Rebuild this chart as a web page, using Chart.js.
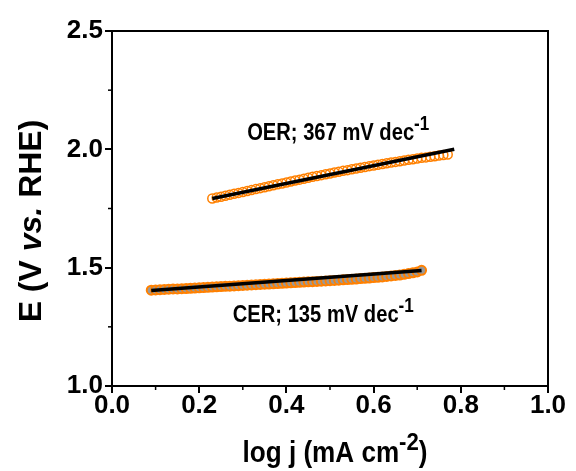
<!DOCTYPE html>
<html>
<head>
<meta charset="utf-8">
<script src="https://cdn.jsdelivr.net/npm/chart.js@4"></script>
<style>
  html, body { margin: 0; padding: 0; background: #fff; }
  #wrap { width: 576px; height: 471px; }
</style>
</head>
<body>
<div id="wrap"><canvas id="chart-tafel" width="576" height="471"></canvas></div>
<script>
// log j values (x) and potentials (y)
const oerLogJ = [0.23, 0.24, 0.25, 0.26, 0.27, 0.28, 0.29, 0.30, 0.31, 0.32, 0.33, 0.34, 0.35, 0.36, 0.37, 0.38, 0.39, 0.40, 0.41, 0.42, 0.43, 0.44, 0.45, 0.46, 0.47, 0.48, 0.49, 0.50, 0.51, 0.52, 0.53, 0.54, 0.55, 0.56, 0.57, 0.58, 0.59, 0.60, 0.61, 0.62, 0.63, 0.64, 0.65, 0.66, 0.67, 0.68, 0.69, 0.70, 0.71, 0.72, 0.73, 0.74, 0.75, 0.76, 0.77];
const oerE = [1.792, 1.796, 1.800, 1.804, 1.808, 1.812, 1.816, 1.820, 1.824, 1.828, 1.832, 1.836, 1.840, 1.844, 1.848, 1.852, 1.856, 1.860, 1.864, 1.868, 1.872, 1.876, 1.880, 1.884, 1.887, 1.891, 1.895, 1.898, 1.902, 1.905, 1.909, 1.912, 1.916, 1.919, 1.922, 1.925, 1.929, 1.932, 1.935, 1.938, 1.941, 1.944, 1.947, 1.950, 1.953, 1.956, 1.958, 1.961, 1.964, 1.966, 1.969, 1.971, 1.974, 1.976, 1.978];

const cerLogJ = [0.09, 0.10, 0.11, 0.12, 0.13, 0.14, 0.15, 0.16, 0.17, 0.18, 0.19, 0.20, 0.21, 0.22, 0.23, 0.24, 0.25, 0.26, 0.27, 0.28, 0.29, 0.30, 0.31, 0.32, 0.33, 0.34, 0.35, 0.36, 0.37, 0.38, 0.39, 0.40, 0.41, 0.42, 0.43, 0.44, 0.45, 0.46, 0.47, 0.48, 0.49, 0.50, 0.51, 0.52, 0.53, 0.54, 0.55, 0.56, 0.57, 0.58, 0.59, 0.60, 0.61, 0.62, 0.63, 0.64, 0.65, 0.66, 0.67, 0.68, 0.69, 0.70, 0.71];
const cerE = [1.405, 1.406, 1.407, 1.408, 1.409, 1.410, 1.410, 1.411, 1.412, 1.413, 1.414, 1.415, 1.416, 1.417, 1.418, 1.419, 1.420, 1.421, 1.422, 1.423, 1.424, 1.425, 1.426, 1.427, 1.428, 1.429, 1.430, 1.431, 1.432, 1.433, 1.434, 1.435, 1.436, 1.437, 1.438, 1.439, 1.440, 1.441, 1.442, 1.443, 1.444, 1.445, 1.446, 1.447, 1.449, 1.450, 1.451, 1.452, 1.454, 1.455, 1.456, 1.458, 1.459, 1.461, 1.463, 1.465, 1.467, 1.469, 1.472, 1.475, 1.478, 1.482, 1.489];

// Tafel fit lines (end points)
const oerFitX = [0.23, 0.785];
const oerFitE = [1.792, 2.0];
const cerFitX = [0.09, 0.71];
const cerFitE = [1.404, 1.488];

const xTicks = [0.0, 0.2, 0.4, 0.6, 0.8, 1.0];
const yTicks = [1.0, 1.5, 2.0, 2.5];
const xMinorTicks = [0.1, 0.3, 0.5, 0.7, 0.9];
const yMinorTicks = [1.25, 1.75, 2.25];

const oerLabel = "OER; 367 mV dec";
const cerLabel = "CER; 135 mV dec";

const FONT = "'Liberation Sans', Arial, sans-serif";
const orange = "#ff8000";

const toPts = (xs, ys) => xs.map((x, i) => ({ x: x, y: ys[i] }));

// draw text made of pieces (normal / italic / superscript), sx = horizontal squeeze
function richText(ctx, parts, x, y, size, sx) {
  ctx.save();
  ctx.translate(x, y);
  ctx.scale(sx, 1);
  let cx = 0;
  parts.forEach(p => {
    const s = p.sup ? size * 0.85 : size;
    ctx.font = (p.italic ? "italic " : "") + "bold " + s + "px " + FONT;
    ctx.fillText(p.t, cx, p.sup ? -size * 0.42 : 0);
    cx += ctx.measureText(p.t).width;
  });
  ctx.restore();
}
function richWidth(ctx, parts, size, sx) {
  let w = 0;
  parts.forEach(p => {
    const s = p.sup ? size * 0.85 : size;
    ctx.font = (p.italic ? "italic " : "") + "bold " + s + "px " + FONT;
    w += ctx.measureText(p.t).width;
  });
  return w * sx;
}

const extras = {
  id: "extras",
  afterDraw(chart) {
    const ctx = chart.ctx;
    const a = chart.chartArea;
    const xs = chart.scales.x, ys = chart.scales.y;
    ctx.save();
    ctx.strokeStyle = "#000";
    ctx.lineWidth = 2;
    // top and right frame
    ctx.beginPath();
    ctx.moveTo(a.left, a.top);
    ctx.lineTo(a.right, a.top);
    ctx.lineTo(a.right, a.bottom);
    ctx.stroke();
    // minor ticks
    ctx.lineWidth = 1.5;
    xMinorTicks.forEach(v => {
      const px = xs.getPixelForValue(v);
      ctx.beginPath(); ctx.moveTo(px, a.bottom); ctx.lineTo(px, a.bottom + 4); ctx.stroke();
    });
    yMinorTicks.forEach(v => {
      const py = ys.getPixelForValue(v);
      ctx.beginPath(); ctx.moveTo(a.left, py); ctx.lineTo(a.left - 4, py); ctx.stroke();
    });

    ctx.fillStyle = "#000";
    ctx.textBaseline = "alphabetic";
    ctx.textAlign = "left";
    // annotations
    richText(ctx, [{ t: oerLabel }, { t: "-1", sup: true }], xs.getPixelForValue(0.31), ys.getPixelForValue(2.039), 24, 0.84);
    richText(ctx, [{ t: cerLabel }, { t: "-1", sup: true }], xs.getPixelForValue(0.277), ys.getPixelForValue(1.270), 24, 0.84);

    // x title
    const xt = [{ t: "log j (mA cm" }, { t: "-2", sup: true }, { t: ")" }];
    const xw = richWidth(ctx, xt, 29, 0.9);
    richText(ctx, xt, 335 - xw / 2, 462, 29, 0.9);

    // y title (rotated)
    const yt = [{ t: "E (V " }, { t: "vs.", italic: true }, { t: " RHE)" }];
    const yw = richWidth(ctx, yt, 32, 1);
    ctx.translate(41, 221);
    ctx.rotate(-Math.PI / 2);
    richText(ctx, yt, -yw / 2, 0, 32, 1);
    ctx.restore();
  }
};

const canvas = document.getElementById("chart-tafel");

const chart = new Chart(canvas, {
  type: "scatter",
  data: {
    datasets: [
      {
        label: "OER fit",
        type: "line",
        order: 0,
        data: toPts(oerFitX, oerFitE),
        borderColor: "#000",
        borderWidth: 3.5,
        pointRadius: 0,
        fill: false
      },
      {
        label: "CER fit",
        type: "line",
        order: 0,
        data: toPts(cerFitX, cerFitE),
        borderColor: "#000",
        borderWidth: 3.5,
        pointRadius: 0,
        fill: false
      },
      {
        label: "OER",
        order: 1,
        data: toPts(oerLogJ, oerE),
        pointRadius: 4.5,
        pointBorderWidth: 1.5,
        borderColor: orange,
        backgroundColor: "rgba(255,255,255,0)",
        pointBorderColor: orange,
        pointBackgroundColor: "rgba(255,255,255,0)"
      },
      {
        label: "CER",
        order: 1,
        data: toPts(cerLogJ, cerE),
        pointRadius: 4.5,
        pointBorderWidth: 2,
        borderColor: orange,
        backgroundColor: "#999",
        pointBorderColor: orange,
        pointBackgroundColor: "#999"
      }
    ]
  },
  options: {
    responsive: false,
    animation: false,
    layout: { padding: { left: 0, right: 28, top: 31, bottom: 0 } },
    plugins: { legend: { display: false }, tooltip: { enabled: false } },
    scales: {
      x: {
        type: "linear",
        min: 0, max: 1,
        afterBuildTicks: s => { s.ticks = xTicks.map(v => ({ value: v })); },
        afterFit: s => { s.height = 85; },
        border: { display: true, color: "#000", width: 2 },
        grid: { drawOnChartArea: false, drawTicks: true, tickLength: 7, color: "#000", lineWidth: 2 },
        ticks: {
          color: "#000",
          padding: 0,
          font: { family: FONT, size: 26, weight: "bold", lineHeight: 1 },
          callback: v => Number(v).toFixed(1)
        }
      },
      y: {
        type: "linear",
        min: 1, max: 2.5,
        afterBuildTicks: s => { s.ticks = yTicks.map(v => ({ value: v })); },
        afterFit: s => { s.width = 112; },
        border: { display: true, color: "#000", width: 2 },
        grid: { drawOnChartArea: false, drawTicks: true, tickLength: 7, color: "#000", lineWidth: 2 },
        ticks: {
          color: "#000",
          padding: 2,
          font: { family: FONT, size: 26, weight: "bold", lineHeight: 1 },
          callback: v => Number(v).toFixed(1)
        }
      }
    }
  },
  plugins: [extras]
});
</script>
</body>
</html>
